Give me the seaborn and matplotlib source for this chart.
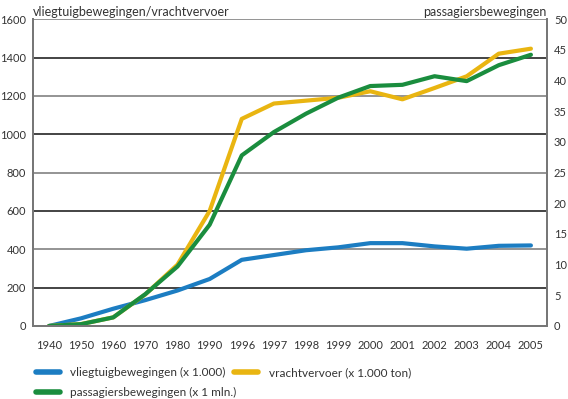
import matplotlib
matplotlib.use("Agg")
import matplotlib.pyplot as plt
import seaborn as sns
import pandas as pd

# data
jaren = ["1940", "1950", "1960", "1970", "1980", "1990", "1996", "1997",
         "1998", "1999", "2000", "2001", "2002", "2003", "2004", "2005"]
vliegtuig = [0, 40, 90, 135, 185, 245, 345, 370, 395, 410, 432, 432, 415, 403, 418, 420]
vracht = [0, 10, 45, 165, 320, 600, 1080, 1160, 1175, 1190, 1224, 1182, 1241, 1302, 1420, 1446]
passagiers = [0, 0.3, 1.4, 5.2, 9.7, 16.5, 27.8, 31.6, 34.6, 37.2, 39.1, 39.3, 40.7, 39.9, 42.5, 44.2]

blauw = "#1c7dc2"
geel = "#e9b511"
groen = "#1a8d3e"

df = pd.DataFrame({"pos": range(len(jaren)), "jaar": jaren,
                   "vliegtuig": vliegtuig, "vracht": vracht, "passagiers": passagiers})

sns.set_style("white")
plt.rcParams["font.family"] = ["Lato", "DejaVu Sans"]
plt.rcParams["text.color"] = "#333333"

fig = plt.figure(figsize=(5.68, 3.99), dpi=100)
ax = fig.add_axes([0.058, 0.183, 0.905, 0.769])
ax2 = ax.twinx()

sns.lineplot(data=df, x="pos", y="vliegtuig", ax=ax, color=blauw, lw=3,
             label="vliegtuigbewegingen (x 1.000)", legend=False)
sns.lineplot(data=df, x="pos", y="vracht", ax=ax, color=geel, lw=3,
             label="vrachtvervoer (x 1.000 ton)", legend=False)
sns.lineplot(data=df, x="pos", y="passagiers", ax=ax2, color=groen, lw=3,
             label="passagiersbewegingen (x 1 mln.)", legend=False)

ax.set_xlim(-0.5, len(jaren) - 0.5)
ax.set_ylim(0, 1600)
ax2.set_ylim(0, 50)
ax.set_yticks(range(0, 1601, 200))
ax2.set_yticks(range(0, 51, 5))
ax.set_xticks(df["pos"])
ax.set_xticklabels(jaren)
ax.set_xlabel("")
ax.set_ylabel("")
ax2.set_ylabel("")

# horizontale lijnen, om en om zwart/grijs
for i, y in enumerate(range(200, 1601, 200)):
    kleur = "#111111" if i % 2 == 0 else "#777777"
    ax.axhline(y, color=kleur, lw=1.1, zorder=0)

for a in (ax, ax2):
    a.tick_params(length=0, labelsize=8, colors="#333333", pad=5)
    for s in a.spines.values():
        s.set_color("#777777")
        s.set_linewidth(1.4)
    a.spines["top"].set_visible(False)
ax.tick_params(axis="x", pad=10)

fig.text(0.058, 0.985, "vliegtuigbewegingen/vrachtvervoer", fontsize=9, va="top", ha="left")
fig.text(0.963, 0.985, "passagiersbewegingen", fontsize=9, va="top", ha="right")

h1, l1 = ax.get_legend_handles_labels()
h2, l2 = ax2.get_legend_handles_labels()
handles = [h1[0], h2[0], h1[1]]
labels = [l1[0], l2[0], l1[1]]
leg = fig.legend(handles, labels, ncol=2, loc="lower left", bbox_to_anchor=(0.045, -0.025),
                 frameon=False, fontsize=8.5, handlelength=2.0, columnspacing=-0.2,
                 labelspacing=0.75, handletextpad=0.9)
for h in leg.legend_handles:
    h.set_linewidth(4)

fig.savefig("out.png", dpi=100)
